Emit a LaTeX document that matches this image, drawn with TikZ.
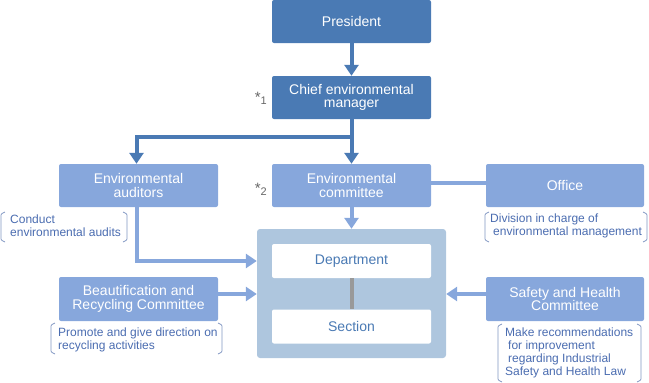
\documentclass[tikz,border=0pt]{standalone}
\usepackage{fontspec}
\setmainfont{Liberation Sans}
\usetikzlibrary{arrows.meta}
\definecolor{dblue}{HTML}{4A7AB4}
\definecolor{lblue}{HTML}{87A7DC}
\definecolor{cblue}{HTML}{AEC6DE}
\definecolor{tblue}{HTML}{4A6CB0}
\definecolor{brk}{HTML}{8096C2}
\definecolor{gline}{HTML}{999999}
\begin{document}
\begin{tikzpicture}[x=1pt,y=-1pt,
  box/.style={rectangle,rounded corners=2pt,minimum width=159pt,minimum height=43pt,inner sep=0pt,align=center,text=white,font=\fontsize{14}{13.5}\selectfont},
  dbox/.style={box,fill=dblue},
  lbox/.style={box,fill=lblue},
  wbox/.style={rectangle,rounded corners=2pt,fill=white,minimum width=159pt,minimum height=34pt,inner sep=0pt,text=dblue,font=\fontsize{14}{13.5}\selectfont},
  note/.style={anchor=west,align=left,inner sep=0pt,text=tblue,font=\fontsize{12}{13}\selectfont},
  star/.style={anchor=east,inner sep=0pt,text=black!60,font=\fontsize{15}{15}\selectfont},
  darrow/.style={draw=dblue,line width=4pt,-{Triangle[width=14pt,length=11pt]}},
  larrow/.style={draw=lblue,line width=4pt,-{Triangle[width=14pt,length=11pt]}},
  brack/.style={draw=brk,line width=0.7pt,rounded corners=1pt}]
\useasboundingbox (0,0) rectangle (649,383);
% container
\node[rectangle,rounded corners=3pt,fill=cblue,minimum width=189pt,minimum height=129pt,inner sep=0pt] (cont) at (351.5,293.5) {};
\node[wbox] (dept) at (351.5,261) {Department};
\node[wbox] (sect) at (351.5,326.5) {Section};
\draw[gline,line width=4pt] (dept.south) -- (sect.north);
% boxes
\node[dbox] (pres) at (351.5,21.5) {President};
\node[dbox] (chief) at (351.5,97.5) {Chief environmental\\manager};
\node[lbox] (aud) at (138.5,185.5) {Environmental\\auditors};
\node[lbox] (envc) at (351.5,185.5) {Environmental\\committee};
\node[lbox,minimum width=158pt] (off) at (565,185.5) {Office};
\node[lbox,minimum height=44pt] (beau) at (138.5,299) {Beautification and\\Recycling Committee};
\node[lbox,minimum width=158pt,minimum height=44pt] (safe) at (565,299) {Safety and Health\\Committee};
% stars
\node[star] (s1) at (267,98) {*{\fontsize{11}{11}\selectfont\raisebox{-2pt}{1}}};
\node[star] (s2) at (267,189) {*{\fontsize{11}{11}\selectfont\raisebox{-2pt}{2}}};
% connectors
\coordinate (split) at (351.5,137);
\draw[darrow] (pres.south) -- (chief.north);
\draw[darrow] (chief.south) -- (envc.north);
\draw[darrow,shorten <=-2pt] (split) -| ([xshift=-2pt]aud.north);
\draw[larrow] (envc.south) -- (cont.north);
\draw[lblue,line width=4pt] ([yshift=3pt]envc.east) -- ([yshift=3pt]off.west);
\draw[larrow] ([xshift=-2pt]aud.south) |- (dept.west -| cont.west);
\draw[larrow] ([yshift=5pt]beau.east) -- ([yshift=5pt]beau.east -| cont.west);
\draw[larrow] ([yshift=5pt]safe.west) -- ([yshift=5pt]safe.west -| cont.east);
% notes
\node[note] (n1) at (10,226) {Conduct\\environmental audits};
\draw[brack] (5,212) -- (1,214) -- (1,240) -- (5,242);
\draw[brack] (123,212) -- (127,214) -- (127,240) -- (123,242);
\node[note] (n2) at (58,340) {Promote and give direction on\\recycling activities};
\draw[brack] (55,323) -- (51,325) -- (51,352) -- (55,354);
\draw[brack] (218,323) -- (222,325) -- (222,352) -- (218,354);
\node[note] (n3) at (490,226) {Division in charge of\\\hspace*{3pt}environmental management};
\draw[brack] (489,212) -- (485,214) -- (485,240) -- (489,242);
\draw[brack] (643,212) -- (647,214) -- (647,240) -- (643,242);
\node[note] (n4) at (505,353) {Make recommendations\\\hspace*{3pt}for improvement\\\hspace*{3pt}regarding Industrial\\Safety and Health Law};
\draw[brack] (502,324) -- (498,326) -- (498,380) -- (502,382);
\draw[brack] (637,324) -- (641,326) -- (641,380) -- (637,382);
\end{tikzpicture}
\end{document}
